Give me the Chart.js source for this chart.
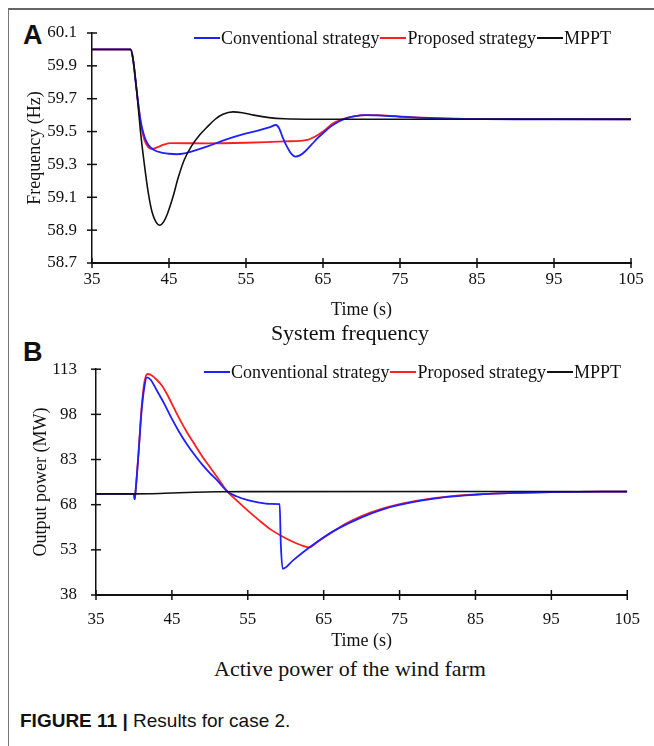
<!DOCTYPE html>
<html>
<head>
<meta charset="utf-8">
<script src="https://cdn.jsdelivr.net/npm/chart.js@4.4.1/dist/chart.umd.min.js"></script>
<style>
  body { margin: 0; background: #fff; }
  #wrap { position: relative; width: 654px; height: 746px; overflow: hidden; font-family: "Liberation Serif", "Times New Roman", serif; color: #111; }
  #frame { position: absolute; left: 8px; top: 8px; width: 800px; height: 900px; border-top: 2px solid #666; border-left: 1px solid #777; }
  canvas { position: absolute; left: 0; }
  .panel { position: absolute; font: bold 27px "Liberation Sans", Arial, sans-serif; line-height: 28px; }
  .sub { position: absolute; left: 0; width: 700px; text-align: center; font-size: 22px; line-height: 24px; }
  .legend { position: absolute; display: flex; align-items: center; white-space: nowrap; font-size: 18px; line-height: 20px; }
  .legend i { display: inline-block; width: 26px; height: 2px; margin: 0 1px; }
  #caption { position: absolute; left: 20px; top: 710px; font: 19px "Liberation Sans", Arial, sans-serif; line-height: 22px; }
</style>
</head>
<body>
<div id="wrap">
  <div id="frame"></div>
  <div class="panel" style="left:23px;top:21px;">A</div>
  <div class="panel" style="left:23px;top:338px;">B</div>

  <canvas id="freq" width="654" height="322" style="top:0;"></canvas>
  <canvas id="power" width="654" height="315" style="top:340px;"></canvas>

  <div class="legend" style="left:193px;top:28px;">
    <i style="background:#1f1fff"></i>Conventional strategy<i style="background:#ff1f1f"></i>Proposed strategy<i style="background:#111"></i>MPPT
  </div>
  <div class="legend" style="left:203px;top:362px;">
    <i style="background:#1f1fff"></i>Conventional strategy<i style="background:#ff1f1f"></i>Proposed strategy<i style="background:#111"></i>MPPT
  </div>

  <div class="sub" style="top:321px;">System frequency</div>
  <div class="sub" style="top:657px;">Active power of the wind farm</div>
  <div id="caption"><b>FIGURE 11 |</b> Results for case 2.</div>
</div>

<script>
// --- (A) system frequency, Hz ---
const tFreqConv = [35, 40, 40.3, 40.8, 41.3, 41.8, 42.3, 43, 44, 45, 46, 47, 48, 50, 52, 54, 56, 58, 58.9, 59.3, 59.8, 60.3, 60.8, 61.4, 62, 62.7, 63.5, 64.3, 65, 66, 67, 68, 69, 70.5, 72, 75, 80, 90, 105];
const freqConv  = [60, 60, 59.95, 59.75, 59.57, 59.47, 59.42, 59.39, 59.372, 59.365, 59.362, 59.367, 59.38, 59.41, 59.445, 59.475, 59.5, 59.525, 59.54, 59.52, 59.46, 59.41, 59.37, 59.348, 59.355, 59.38, 59.42, 59.46, 59.49, 59.53, 59.56, 59.58, 59.592, 59.6, 59.598, 59.59, 59.58, 59.575, 59.575];

const tFreqProp = [35, 40, 40.3, 40.8, 41.3, 41.8, 42.3, 42.8, 43.5, 44.3, 45.2, 50, 55, 60, 63, 64, 65, 66.3, 67.5, 69, 70.6, 72, 74, 78, 85, 105];
const freqProp  = [60, 60, 59.95, 59.75, 59.56, 59.45, 59.405, 59.394, 59.405, 59.42, 59.43, 59.428, 59.432, 59.44, 59.45, 59.47, 59.5, 59.55, 59.575, 59.592, 59.6, 59.6, 59.595, 59.585, 59.577, 59.575];

const tFreqMppt = [35, 40, 40.3, 40.8, 41.3, 41.8, 42.3, 42.8, 43.3, 43.8, 44.3, 44.8, 45.5, 46.2, 47, 47.9, 49, 50, 51, 52, 53.3, 54.5, 56, 58, 60, 64, 105];
const freqMppt  = [60, 60, 59.95, 59.75, 59.5, 59.3, 59.13, 59.01, 58.95, 58.93, 58.95, 59.0, 59.1, 59.22, 59.33, 59.41, 59.48, 59.53, 59.575, 59.605, 59.62, 59.615, 59.6, 59.585, 59.578, 59.575, 59.575];

// --- (B) wind farm active power, MW ---
const tPowConv = [35, 40, 40.1, 40.2, 40.6, 41, 41.4, 41.7, 42.2, 43, 44, 45, 46, 47, 48, 49, 50, 51, 52.3, 53.5, 55, 56.5, 58, 59.2, 59.35, 59.6, 61, 62.5, 63.5, 65, 67, 70, 72.5, 75, 78, 81, 85, 90, 95, 105];
const powConv  = [71.6, 71.6, 69.8, 72, 85, 99, 107.5, 110.3, 109.5, 106, 101.5, 96.5, 92, 88, 84.5, 81.3, 78.5, 76, 72.4, 70.8, 69.5, 68.7, 68.3, 68.2, 55, 46.7, 49.6, 52.6, 54.5, 57.2, 60.2, 63.8, 66.2, 67.9, 69.4, 70.5, 71.3, 71.9, 72.2, 72.35];

const tPowProp = [35, 40, 40.1, 40.2, 40.6, 41, 41.4, 41.8, 42.3, 43, 43.7, 44.4, 45, 46, 47, 48, 49, 50, 51, 52.3, 53.5, 55, 56.5, 58, 59.5, 61, 62.3, 63.1, 64, 65, 66.5, 68, 70, 72.5, 75, 78, 81, 85, 90, 95, 105];
const powProp  = [71.6, 71.6, 69.8, 72, 85, 100, 109, 111.4, 111, 109.5, 107.5, 104.5, 101.5, 96.5, 92, 88, 84, 80.5, 77, 72.4, 69.5, 66, 62.8, 59.8, 57.5, 55.6, 54.3, 53.8, 55.3, 57, 59.5, 61.8, 64.2, 66.5, 68.2, 69.6, 70.6, 71.4, 71.9, 72.2, 72.35];

const tPowMppt = [35, 40, 42, 45, 48, 51, 55, 105];
const powMppt  = [71.6, 71.6, 71.65, 71.9, 72.15, 72.3, 72.35, 72.4];

// tick labels
const timeTicks = [35, 45, 55, 65, 75, 85, 95, 105];
const freqTicks = [58.7, 58.9, 59.1, 59.3, 59.5, 59.7, 59.9, 60.1];
const powTicks  = [38, 53, 68, 83, 98, 113];

const BLUE = '#1f1fff', RED = '#ff1f1f', BLACK = '#111';
const SERIF = '"Liberation Serif", "Times New Roman", serif';

function pts(xs, ys) { return xs.map((x, i) => ({ x: x, y: ys[i] })); }

function line(label, xs, ys, color, w) {
  return {
    label: label, data: pts(xs, ys), borderColor: color, backgroundColor: color,
    borderWidth: w, pointRadius: 0, fill: false, cubicInterpolationMode: 'monotone'
  };
}

// tick marks that cross the axis line, like the original figure
const crossTicks = {
  id: 'crossTicks',
  afterDraw(chart) {
    const { ctx, chartArea } = chart;
    const x = chart.scales.x, y = chart.scales.y;
    ctx.save();
    ctx.strokeStyle = BLACK;
    ctx.lineWidth = 1.5;
    x.ticks.forEach(t => {
      const px = x.getPixelForValue(t.value);
      ctx.beginPath(); ctx.moveTo(px, chartArea.bottom - 5); ctx.lineTo(px, chartArea.bottom + 5); ctx.stroke();
    });
    y.ticks.forEach(t => {
      const py = y.getPixelForValue(t.value);
      ctx.beginPath(); ctx.moveTo(chartArea.left - 5, py); ctx.lineTo(chartArea.left + 5, py); ctx.stroke();
    });
    ctx.restore();
  }
};

function makeChart(id, datasets, o) {
  return new Chart(document.getElementById(id), {
    type: 'line',
    data: { datasets: datasets },
    plugins: [crossTicks],
    options: {
      responsive: false,
      animation: false,
      devicePixelRatio: 1,
      layout: { padding: { top: o.top, right: o.right, left: 0, bottom: 0 } },
      plugins: { legend: { display: false }, tooltip: { enabled: false } },
      scales: {
        x: {
          type: 'linear', min: 35, max: 105,
          afterBuildTicks: s => { s.ticks = timeTicks.map(v => ({ value: v })); },
          afterFit: s => { s.height = o.xh; },
          grid: { display: false, drawTicks: false },
          border: { display: true, color: BLACK, width: 2 },
          ticks: { color: BLACK, padding: o.xpad, maxRotation: 0, font: { family: SERIF, size: 17 } },
          title: { display: true, text: 'Time (s)', color: BLACK, padding: { top: 0, bottom: o.tpad }, font: { family: SERIF, size: 18 } }
        },
        y: {
          type: 'linear', min: o.ymin, max: o.ymax,
          afterBuildTicks: s => { s.ticks = o.yticks.map(v => ({ value: v })); },
          afterFit: s => { s.width = o.yw; },
          grid: { display: false, drawTicks: false },
          border: { display: true, color: BLACK, width: 1.5 },
          ticks: { color: BLACK, padding: o.ypad, font: { family: SERIF, size: 17 }, callback: o.fmt },
          title: { display: true, text: o.ytitle, color: BLACK, padding: { top: o.ytpad, bottom: 0 }, font: { family: SERIF, size: 18 } }
        }
      }
    }
  });
}

makeChart('freq', [
  line('MPPT', tFreqMppt, freqMppt, BLACK, 1.6),
  line('Conventional strategy', tFreqConv, freqConv, BLUE, 1.8),
  line('Proposed strategy', tFreqProp, freqProp, RED, 1.8)
], { top: 33, right: 23, xh: 59, xpad: 6, tpad: 1, yw: 92, ypad: 15, ytpad: 24, ymin: 58.7, ymax: 60.1, yticks: freqTicks,
     fmt: v => v.toFixed(1), ytitle: 'Frequency (Hz)' });

makeChart('power', [
  line('MPPT', tPowMppt, powMppt, BLACK, 1.6),
  line('Conventional strategy', tPowConv, powConv, BLUE, 1.8),
  line('Proposed strategy', tPowProp, powProp, RED, 1.8)
], { top: 26, right: 25, xh: 60, xpad: 14, tpad: 3, yw: 96, ypad: 19, ytpad: 30, ymin: 38, ymax: 113, yticks: powTicks,
     fmt: v => String(v), ytitle: 'Output power (MW)' });
</script>
</body>
</html>
